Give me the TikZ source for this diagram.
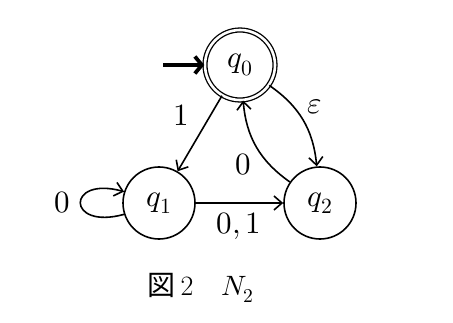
\documentclass[tikz,border=0pt]{standalone}
\usepackage{fontspec}
\usepackage{unicode-math}
\setmathfont{Latin Modern Math}
\newfontfamily\cjk{Noto Sans CJK JP}
\usetikzlibrary{arrows.meta}
\begin{document}
\begin{tikzpicture}[x=1pt,y=1pt,
  every node/.style={font=\fontsize{31}{36}\selectfont},
  state/.style={circle,draw,line width=1.6pt,minimum size=72pt,inner sep=0pt},
  accstate/.style={circle,draw,line width=1.3pt,double,double distance=2.6pt,minimum size=70pt,inner sep=0pt},
  edge/.style={line width=1.6pt,-{Straight Barb[length=8pt,width=14pt,line width=1.6pt]}},
  startarrow/.style={line width=3.8pt,-{Straight Barb[length=7pt,width=17pt,line width=3.8pt]}},
  lbl/.style={inner sep=1pt}]
\useasboundingbox (0,0) rectangle (453,322);
\node[accstate] (q0) at (240,257) {$q_0$};
\node[state] (q1) at (159,119) {$q_1$};
\node[state] (q2) at (320,119) {$q_2$};
\coordinate (s) at (163,257);
\draw[startarrow] (s) -- (q0.west);
\draw[edge] (q0) -- (q1);
\draw[edge] (q0) to[bend left=25] (q2);
\draw[edge] (q2) to[bend left=25] (q0);
\draw[edge] (q1) -- (q2);
\draw[edge] (q1.-162) .. controls +(-58,-16) and +(-58,16) .. (q1.162);
\node[lbl] (l1) at (181,207) {$1$};
\node[lbl] (le) at (315,215) {$\varepsilon$};
\node[lbl] (l0) at (243,157) {$0$};
\node[lbl] (l01) at (239,96) {$0,1$};
\node[lbl] (ll) at (62,119) {$0$};
\node[font=\fontsize{28}{32}\selectfont] (cap) at (201,34) {{\cjk 図}\,2\hspace{1em}$N_2$};
\end{tikzpicture}
\end{document}
